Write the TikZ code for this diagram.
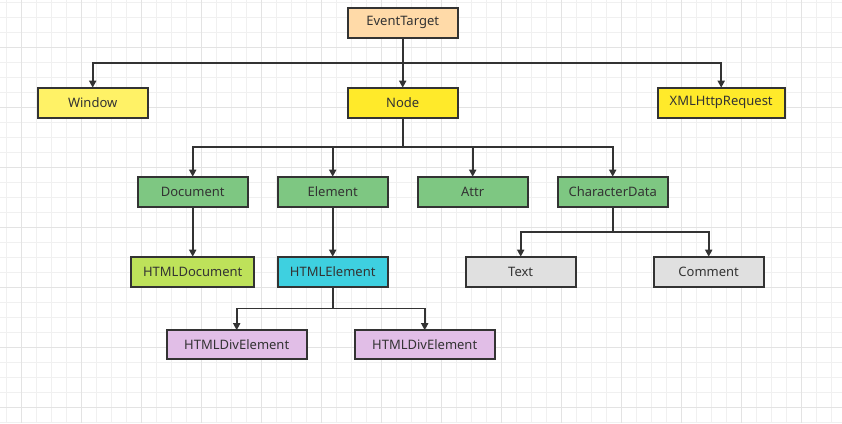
\documentclass[tikz,border=0pt]{standalone}
\usepackage{fontspec}
\setmainfont{Noto Sans}
\usetikzlibrary{positioning,arrows.meta}

\definecolor{peach}{HTML}{FFDAA8}
\definecolor{paleyellow}{HTML}{FFF266}
\definecolor{brightyellow}{HTML}{FFEA2A}
\definecolor{leafgreen}{HTML}{7EC782}
\definecolor{limegreen}{HTML}{BEE25A}
\definecolor{skycyan}{HTML}{3ED0E0}
\definecolor{lavender}{HTML}{E1BEE7}
\definecolor{lightgray}{HTML}{E0E0E0}
\definecolor{ink}{HTML}{333333}

\begin{document}
\begin{tikzpicture}[%
    x=1pt,
    y=-1pt,
    ->,
    >={Triangle[length=7pt,width=7pt]},
    line width=1.8pt,
    cls/.style={%
      rectangle,
      draw=ink,
      minimum width=110pt,
      minimum height=30pt,
      inner sep=0pt,
      outer sep=0pt,
      text=ink,
      font=\fontsize{13}{15}\selectfont
    },
    minorline/.style={-, line width=0.6pt, draw=black!6},
    majorline/.style={-, line width=0.8pt, draw=black!11}
  ]
    \useasboundingbox (0,0) rectangle (842,423);
    % grid paper
    \foreach \x in {6.7,21.7,...,842} \draw[minorline] (\x,0) -- (\x,423);
    \foreach \y in {2,17,...,423} \draw[minorline] (0,\y) -- (842,\y);
    \foreach \x in {21.7,81.7,...,842} \draw[majorline] (\x,0) -- (\x,423);
    \foreach \y in {47,107,...,423} \draw[majorline] (0,\y) -- (842,\y);

    \node[cls, fill=peach] (et) at (402.7,22.7)                           {EventTarget};
    \node[cls, fill=brightyellow] (nd) [below=50pt of et]                  {Node};
    \node[cls, fill=paleyellow] (win) [left=200pt of nd]                   {Window};
    \node[cls, fill=brightyellow, minimum width=127pt] (xhr) [right=200pt of nd] {XMLHttpRequest};

    \node[cls, fill=leafgreen] (elem) [below=59pt of nd, xshift=-70pt]     {Element};
    \node[cls, fill=leafgreen] (doc) [left=30pt of elem]                   {Document};
    \node[cls, fill=leafgreen] (attr) [right=30pt of elem]                 {Attr};
    \node[cls, fill=leafgreen] (cdata) [right=30pt of attr]                {CharacterData};

    \node[cls, fill=limegreen, minimum width=123pt] (hdoc) [below=50pt of doc] {HTMLDocument};
    \node[cls, fill=skycyan] (hel) [below=50pt of elem]                    {HTMLElement};
    \node[cls, fill=lightgray] (text) [below=50pt of cdata, xshift=-92pt]  {Text};
    \node[cls, fill=lightgray] (comm) [right=78pt of text]                 {Comment};

    \node[cls, fill=lavender, minimum width=140pt, minimum height=29pt] (div1) [below=43.5pt of hel, xshift=-96pt] {HTMLDivElement};
    \node[cls, fill=lavender, minimum width=140pt, minimum height=29pt] (div2) [right=48pt of div1] {HTMLDivElement};

    \draw[ink] (et) -- (nd);
    \draw[ink] (et.south) -- ++(0,25) -| (win.north);
    \draw[ink] (et.south) -- ++(0,25) -| (xhr.north);
    \foreach \c in {doc,elem,attr,cdata}
      \draw[ink] (nd.south) -- ++(0,29) -| (\c.north);
    \draw[ink] (doc) -- (hdoc);
    \draw[ink] (elem) -- (hel);
    \draw[ink] (cdata.south) -- ++(0,25) -| (text.north);
    \draw[ink] (cdata.south) -- ++(0,25) -| (comm.north);
    \draw[ink] (hel.south) -- ++(0,21.7) -| (div1.north);
    \draw[ink] (hel.south) -- ++(0,21.7) -| (div2.north);
  \end{tikzpicture}
\end{document}
